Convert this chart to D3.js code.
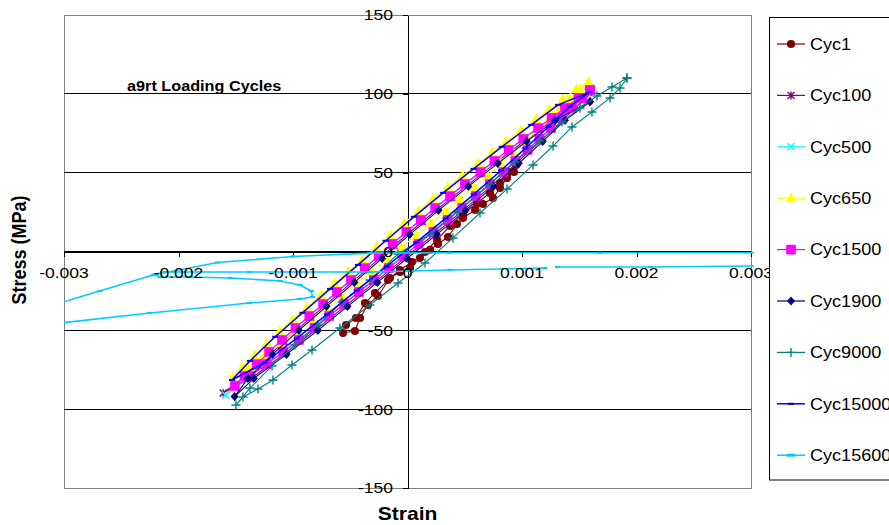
<!DOCTYPE html>
<html><head><meta charset="utf-8">
<script src="https://cdn.jsdelivr.net/npm/d3@7"></script>
<style>body{margin:0;background:#fff} text{font-family:"Liberation Sans",Arial,sans-serif}</style>
</head><body>
<svg id="c" width="889" height="525"></svg>
<script>
// ---------- data ----------
const seriesNames = ["Cyc1","Cyc100","Cyc500","Cyc650","Cyc1500","Cyc1900","Cyc9000","Cyc15000","Cyc15600"];
const seriesColors = ["#800000","#800080","#00FFFF","#FFFF00","#FF00FF","#000080","#008080","#0000FF","#00CCFF"];
const seriesMarkers = ["circle","asterisk","x","triangle","square","diamond","plus","dash","dash2"];

const xTicks = [-0.003,-0.002,-0.001,0,0.001,0.002,0.003];
const xTickLabels = ["-0.003","-0.002","-0.001","0","0.001","0.002","0.003"];
const yTicks = [-150,-100,-50,0,50,100,150];
const yTickLabels = ["-150","-100","-50","0","50","100","150"];

const cyc1Strain = [-0.000563,-0.000459,-0.000415,-0.000345,-0.000258,-0.000153,-0.000066,0.000022,0.000109,0.000197,0.000266,0.000354,0.000432,0.000485,0.000590,0.000659,0.000747,0.000808,0.000869,0.000930,0.000948,0.000878,0.000808,0.000721,0.000607,0.000485,0.000371,0.000258,0.000153,0.000039,-0.000066,-0.000170,-0.000284,-0.000371,-0.000450,-0.000537];
const cyc1Stress = [-51.7,-50.4,-42.2,-33.9,-28.2,-16.8,-13.0,-10.5,-4.1,1.0,4.8,9.2,17.4,21.2,26.3,30.1,33.9,40.3,46.6,50.4,54.9,50.4,43.4,37.1,30.8,23.8,16.2,7.3,-0.3,-6.7,-11.7,-18.1,-26.3,-32.7,-42.2,-46.6];

const cyc100Strain = [0.001580,0.001390,0.001155,0.000898,0.000651,0.000386,0.000131,-0.000116,-0.000358,-0.000601,-0.000843,-0.001081,-0.001301,-0.001610,-0.001357,-0.001071,-0.000798,-0.000539,-0.000278,-0.000019,0.000241,0.000492,0.000735,0.000957,0.001166,0.001360,0.001543,0.001580];
const cyc100Stress = [101.0,90.0,77.3,63.4,49.4,34.2,19.0,3.8,-11.5,-26.7,-41.9,-57.1,-72.4,-89.8,-80.0,-64.7,-49.5,-34.3,-19.1,-3.9,11.4,26.6,41.8,56.4,70.4,83.7,96.4,101.0];

const cyc500Strain = [0.001600,0.001498,0.001263,0.001016,0.000764,0.000506,0.000246,-0.000005,-0.000247,-0.000489,-0.000732,-0.000974,-0.001204,-0.001419,-0.001590,-0.001224,-0.000943,-0.000678,-0.000419,-0.000158,0.000101,0.000357,0.000603,0.000842,0.001054,0.001258,0.001441,0.001600];
const cyc500Stress = [103.5,97.9,85.2,71.9,57.9,43.3,28.1,12.9,-2.4,-17.6,-32.8,-48.0,-63.2,-78.5,-91.0,-70.9,-55.6,-40.4,-25.2,-10.0,5.3,20.5,35.7,50.9,64.9,78.8,91.5,103.5];

const cyc650Strain = [0.001580,0.001473,0.001355,0.001238,0.001120,0.000991,0.000863,0.000739,0.000616,0.000481,0.000351,0.000221,0.000096,-0.000030,-0.000151,-0.000272,-0.000393,-0.000514,-0.000636,-0.000757,-0.000878,-0.000999,-0.001116,-0.001229,-0.001336,-0.001444,-0.001527,-0.001392,-0.001249,-0.001106,-0.000968,-0.000833,-0.000703,-0.000574,-0.000444,-0.000313,-0.000183,-0.000054,0.000076,0.000206,0.000332,0.000457,0.000578,0.000700,0.000817,0.000922,0.001029,0.001131,0.001233,0.001325,0.001416,0.001508,0.001580];
const cyc650Stress = [107.5,102.9,96.5,90.2,83.8,76.9,69.9,62.9,55.9,48.3,40.7,33.1,25.5,17.9,10.3,2.6,-5.0,-12.6,-20.2,-27.8,-35.4,-43.0,-50.6,-58.2,-65.9,-73.5,-80.0,-73.5,-65.9,-58.2,-50.6,-43.0,-35.4,-27.8,-20.2,-12.6,-5.0,2.6,10.3,17.9,25.5,33.1,40.7,48.3,55.9,62.9,69.9,76.9,83.8,90.2,96.5,102.9,107.5];

const cyc1500Strain = [0.001594,0.001493,0.001375,0.001258,0.001140,0.001011,0.000883,0.000759,0.000636,0.000501,0.000371,0.000241,0.000116,-0.000010,-0.000131,-0.000252,-0.000373,-0.000494,-0.000616,-0.000737,-0.000858,-0.000979,-0.001096,-0.001209,-0.001316,-0.001424,-0.001507,-0.001372,-0.001229,-0.001086,-0.000948,-0.000813,-0.000683,-0.000554,-0.000424,-0.000293,-0.000163,-0.000034,0.000096,0.000226,0.000352,0.000477,0.000598,0.000720,0.000837,0.000942,0.001049,0.001151,0.001253,0.001345,0.001436,0.001528,0.001594];
const cyc1500Stress = [102.4,97.4,91.0,84.7,78.3,71.4,64.4,57.4,50.4,42.8,35.2,27.6,20.0,12.4,4.8,-2.9,-10.5,-18.1,-25.7,-33.3,-40.9,-48.5,-56.1,-63.7,-71.4,-79.0,-85.3,-79.0,-71.4,-63.7,-56.1,-48.5,-40.9,-33.3,-25.7,-18.1,-10.5,-2.9,4.8,12.4,20.0,27.6,35.2,42.8,50.4,57.4,64.4,71.4,78.3,84.7,91.0,97.4,102.4];

const cyc1900Strain = [0.001594,0.001288,0.001041,0.000789,0.000531,0.000271,0.000020,-0.000222,-0.000464,-0.000707,-0.000949,-0.001179,-0.001394,-0.001510,-0.001342,-0.001056,-0.000783,-0.000524,-0.000263,-0.000004,0.000256,0.000507,0.000750,0.000972,0.001181,0.001375,0.001594];
const cyc1900Stress = [95.0,83.2,69.9,55.9,41.3,26.1,10.9,-4.4,-19.6,-34.8,-50.0,-65.2,-80.5,-92.0,-80.5,-65.2,-50.0,-34.8,-19.6,-4.4,10.9,26.1,41.3,55.9,69.9,83.2,95.0];

const cyc9000Strain = [0.001917,0.001786,0.001655,0.001507,0.001349,0.001157,0.000939,0.000721,0.000432,0.000197,-0.000083,-0.000328,-0.000572,-0.000782,-0.000983,-0.001183,-0.001376,-0.001498,-0.001437,-0.001306,-0.001175,-0.001009,-0.000834,-0.000590,-0.000328,-0.000083,0.000153,0.000397,0.000633,0.000869,0.001096,0.001271,0.001437,0.001611,0.001769,0.001856,0.001917];
const cyc9000Stress = [110.0,104.3,98.6,91.0,82.1,70.1,56.8,42.8,25.1,11.1,-1.6,-18.1,-32.0,-46.6,-59.3,-72.6,-86.6,-97.4,-92.3,-87.2,-81.5,-72.0,-62.5,-48.5,-33.9,-20.0,-7.3,8.6,24.4,39.6,54.9,66.9,79.0,88.5,97.4,103.7,110.0];

const cyc15000Strain = [0.001594,0.001315,0.001080,0.000823,0.000576,0.000311,0.000056,-0.000191,-0.000433,-0.000676,-0.000918,-0.001156,-0.001376,-0.001533,-0.001249,-0.000968,-0.000703,-0.000444,-0.000183,0.000076,0.000332,0.000578,0.000817,0.001029,0.001233,0.001416,0.001594];
const cyc15000Stress = [101.2,93.0,80.3,66.4,52.4,37.2,22.0,6.8,-8.5,-23.7,-38.9,-54.1,-69.4,-81.5,-70.4,-55.1,-39.9,-24.7,-9.5,5.8,21.0,36.2,51.4,65.4,79.3,92.0,101.2];

const cyc15600Strain = [0.00308,0.00168,0.00037,-0.00033,-0.00100,-0.00166,-0.00222,-0.00269,-0.00321,-0.00321,-0.00302,-0.00225,-0.00138,-0.00094,-0.00083,-0.00084,-0.00094,-0.00111,-0.00155,-0.00190,-0.00216,-0.00221,-0.00212,-0.00138,-0.00033,0.00037,0.00120,null,0.00131,0.00212,0.00308];
const cyc15600Stress = [-0.8,-0.8,-0.8,-1.0,-3.2,-7.0,-14.9,-25.1,-36.5,-47.3,-45.3,-39.0,-32.7,-30.1,-28.9,-25.1,-21.2,-18.7,-16.8,-16.2,-16.2,-14.6,-13.0,-13.0,-13.0,-11.7,-10.5,null,-9.8,-9.8,-9.2];

const strains = [cyc1Strain,cyc100Strain,cyc500Strain,cyc650Strain,cyc1500Strain,cyc1900Strain,cyc9000Strain,cyc15000Strain,cyc15600Strain];
const stresses = [cyc1Stress,cyc100Stress,cyc500Stress,cyc650Stress,cyc1500Stress,cyc1900Stress,cyc9000Stress,cyc15000Stress,cyc15600Stress];

// ---------- chart ----------
const svg = d3.select("#c");
const L = 64, R = 751, T = 15, B = 488;
const x = d3.scaleLinear().domain([-0.003,0.003]).range([L,R]);
const y = d3.scaleLinear().domain([-150,150]).range([B,T]);
const SX = 1.17;

// plot border and gridlines
svg.append("rect").attr("x",L).attr("y",T).attr("width",R-L).attr("height",B-T)
  .attr("fill","none").attr("stroke","#808080").attr("stroke-width",1).attr("shape-rendering","crispEdges");
svg.append("g").selectAll("line").data(yTicks).join("line")
  .attr("x1",L).attr("x2",R).attr("y1",d=>y(d)).attr("y2",d=>y(d))
  .attr("stroke",d=>(d===150||d===-150)?"#808080":"#000").attr("stroke-width",1).attr("shape-rendering","crispEdges");

// axes (lines + ticks)
const gx = svg.append("g").attr("transform",`translate(0,${y(0)})`)
  .call(d3.axisBottom(x).tickValues(xTicks).tickFormat((d,i)=>xTickLabels[i]).tickSize(5).tickSizeOuter(0));
const gy = svg.append("g").attr("transform",`translate(${x(0)},0)`)
  .call(d3.axisLeft(y).tickValues(yTicks).tickFormat((d,i)=>yTickLabels[i]).tickSize(5).tickSizeOuter(0));
[gx,gy].forEach(g=>{
  g.selectAll("path.domain").attr("stroke","#000").attr("shape-rendering","crispEdges");
  g.selectAll(".tick line").attr("stroke","#000").attr("shape-rendering","crispEdges");
  g.selectAll("text").remove();
});

// series
svg.append("clipPath").attr("id","plotclip").append("rect")
  .attr("x",L).attr("y",T).attr("width",R-L+3).attr("height",B-T);
const plot = svg.append("g").attr("clip-path","url(#plotclip)");

function markerPath(type){
  switch(type){
    case "circle": return d3.symbol(d3.symbolCircle, 52)();
    case "square": return "M-4.8,-4.8H4.8V4.8H-4.8Z";
    case "triangle": return "M0,-5.8L5.2,4H-5.2Z";
    case "diamond": return "M0,-4.6L4,0L0,4.6L-4,0Z";
    case "x": return "M-3.5,-3.5L3.5,3.5M-3.5,3.5L3.5,-3.5";
    case "asterisk": return "M-3.5,-3.5L3.5,3.5M-3.5,3.5L3.5,-3.5M0,-4V4";
    case "plus": return "M-4.5,0H4.5M0,-4.5V4.5";
    case "dash": return "M-3,-1H3V1H-3Z";
    case "dash2": return "M-2.5,-1.1H2.5V1.1H-2.5Z";
  }
}
const strokeMarkers = new Set(["x","asterisk","plus"]);
const line = d3.line().defined(d=>d[0]!=null && d[1]!=null).x(d=>x(d[0])).y(d=>y(d[1]));

seriesNames.forEach((name,i)=>{
  const pts = strains[i].map((s,j)=>[s,stresses[i][j]]);
  const col = seriesColors[i];
  const g = plot.append("g");
  g.append("path").attr("d",line(pts)).attr("fill","none").attr("stroke",col)
    .attr("stroke-width", (i===8)?1.6:(i===7?1.5:1.1)).attr("stroke-linejoin","round");
  const mk = seriesMarkers[i];
  const p = markerPath(mk);
  g.selectAll("path.m").data(pts.filter(d=>d[0]!=null && d[1]!=null)).join("path").attr("class","m")
    .attr("transform",d=>`translate(${x(d[0])},${y(d[1])})`).attr("d",p)
    .attr("fill",strokeMarkers.has(mk)?"none":col)
    .attr("stroke",strokeMarkers.has(mk)?col:"none").attr("stroke-width",1.4);
});

// tick labels (on top)
svg.append("g").selectAll("text").data(xTicks).join("text")
  .attr("transform",d=>`translate(${x(d)},277.5) scale(${SX},1)`)
  .attr("text-anchor","middle").attr("font-size",15).attr("fill","#000")
  .text((d,i)=>xTickLabels[i]);
svg.append("g").selectAll("text").data(yTicks).join("text")
  .attr("transform",d=>`translate(393,${y(d)+5.4}) scale(${SX},1)`)
  .attr("text-anchor","end").attr("font-size",15).attr("fill","#000")
  .text((d,i)=>yTickLabels[i]);

// titles
svg.append("text").attr("transform",`translate(127,91) scale(1.16,1)`)
  .attr("font-size",14).attr("font-weight","bold").text("a9rt Loading Cycles");
svg.append("text").attr("transform",`translate(407.5,520) scale(${SX},1)`)
  .attr("text-anchor","middle").attr("font-size",18).attr("font-weight","bold").text("Strain");
svg.append("text").attr("transform",`translate(26,250) scale(${SX},1) rotate(-90)`)
  .attr("text-anchor","middle").attr("font-size",18).attr("font-weight","bold").text("Stress (MPa)");

// legend
const lg = svg.append("g");
lg.append("rect").attr("x",769.5).attr("y",17.5).attr("width",140).attr("height",462.5)
  .attr("fill","#fff").attr("stroke","#000").attr("stroke-width",1);
seriesNames.forEach((name,i)=>{
  const yy = 44 + i*51.4;
  const col = seriesColors[i];
  const mk = seriesMarkers[i];
  lg.append("line").attr("x1",777).attr("x2",805).attr("y1",yy).attr("y2",yy)
    .attr("stroke",col).attr("stroke-width",(i===8||i===7)?1.5:1.2);
  const lm = (mk==="dash2") ? "M-4,-1.5H4V1.5H-4Z" : markerPath(mk);
  lg.append("path").attr("transform",`translate(791,${yy})`).attr("d",lm)
    .attr("fill",strokeMarkers.has(mk)?"none":(i===7?"#0000AA":col))
    .attr("stroke",strokeMarkers.has(mk)?col:"none").attr("stroke-width",1.4);
  lg.append("text").attr("transform",`translate(810,${yy+5.8}) scale(1.13,1)`)
    .attr("font-size",16).attr("fill","#000").text(name);
});
</script>
</body></html>
